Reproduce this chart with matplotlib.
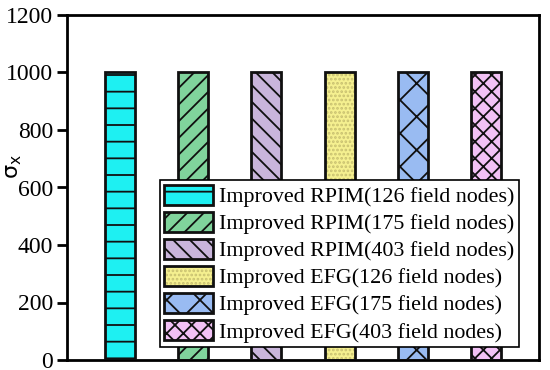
import matplotlib
matplotlib.use('Agg')
import matplotlib.pyplot as plt
import numpy as np

plt.rcParams['font.family'] = ['Liberation Serif', 'DejaVu Serif']
plt.rcParams['mathtext.fontset'] = 'dejavusans'
plt.rcParams['hatch.linewidth'] = 1.3

#=======================================================
labels = ['Improved RPIM(126 field nodes)', 'Improved RPIM(175 field nodes)',
          'Improved RPIM(403 field nodes)', 'Improved EFG(126 field nodes)',
          'Improved EFG(175 field nodes)', 'Improved EFG(403 field nodes)']
values = [1000, 1000, 1000, 1000, 1000, 1000]
colors = ['#1EF0F2', '#80D49C', '#C9B5DB', '#F5F090', '#99BBF2', '#F2C1F5']
hatches = ['-', '//', '\\\\', '....', 'x', 'xx']
hatch_colors = ['#101010', '#101010', '#101010', '#C8C070', '#101010', '#101010']
yticks = [0, 200, 400, 600, 800, 1000, 1200]

#=======================================================
fig = plt.figure(figsize=(5.5, 3.7), dpi=100)
ax = fig.add_axes([67/550, 1-360/370, (539-67)/550, (360-15)/370])

x = np.arange(1, len(values) + 1)
handles = []
for i in range(len(values)):
    # hatch layer (edge colour = hatch colour), then outline on top
    h1 = ax.bar(x[i], values[i], width=0.41, color=colors[i], hatch=hatches[i],
                edgecolor=hatch_colors[i], linewidth=0, zorder=2)
    h2 = ax.bar(x[i], values[i], width=0.41, fill=False,
                edgecolor='#101010', linewidth=2, zorder=3)
    handles.append((h1[0], h2[0]))

ax.set_xlim(0.28, 6.72)
ax.set_ylim(0, 1200)
ax.set_xticks([])
ax.set_yticks(yticks)
ax.set_yticklabels([str(v) for v in yticks], fontsize=17, family='Liberation Serif')
ax.tick_params(axis='y', direction='out', length=7, width=2, pad=3)
for s in ax.spines.values():
    s.set_linewidth(2)

ax.set_ylabel(r'$\mathrm{\sigma_x}$', fontsize=16)
ax.yaxis.set_label_coords(-0.092, 0.56)

leg = ax.legend(handles, labels, loc='lower right', bbox_to_anchor=(0.957, 0.038),
                fontsize=15.8, frameon=True, fancybox=False, edgecolor='black',
                framealpha=1, handlelength=2.25, handleheight=1.05, labelspacing=0.2,
                handletextpad=0.25, borderpad=0.2, borderaxespad=0)
leg.get_frame().set_linewidth(1.2)

fig.savefig('out.png', dpi=100)
